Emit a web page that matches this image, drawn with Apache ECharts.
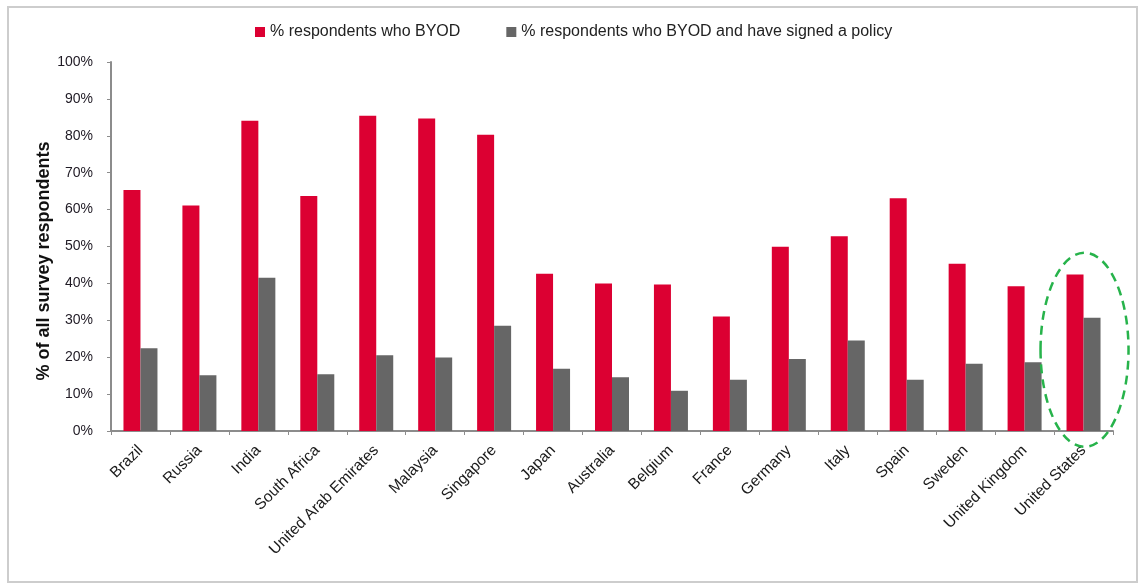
<!DOCTYPE html>
<html>
<head>
<meta charset="utf-8">
<script src="https://cdn.jsdelivr.net/npm/echarts@6/dist/echarts.min.js"></script>
<style>
  html, body { margin: 0; padding: 0; background: #ffffff; }
  #chart { width: 1138px; height: 583px; }
</style>
</head>
<body>
<div id="chart"></div>
<script>
// Countries surveyed
const countries = ['Brazil', 'Russia', 'India', 'South Africa', 'United Arab Emirates', 'Malaysia',
  'Singapore', 'Japan', 'Australia', 'Belgium', 'France', 'Germany', 'Italy', 'Spain', 'Sweden',
  'United Kingdom', 'United States'];

// % respondents who BYOD
const byod = [65.3, 61.1, 84.1, 63.7, 85.4, 84.7, 80.3, 42.6, 40.0, 39.7, 31.0, 49.9, 52.8, 63.1, 45.3, 39.2, 42.4];

// % respondents who BYOD and have signed a policy
const byodPolicy = [22.4, 15.1, 41.5, 15.4, 20.5, 19.9, 28.5, 16.9, 14.6, 10.9, 13.9, 19.5, 24.5, 13.9, 18.2, 18.6, 30.7];

const seriesNames = ['% respondents who BYOD', '% respondents who BYOD and have signed a policy'];
const yTitle = '% of all survey respondents';
const highlighted = 'United States';
const highlightCenterValue = 22;

const FONT = '"Liberation Sans", Arial, Helvetica, sans-serif';
const axisGray = '#8c8c8c';

const chart = echarts.init(document.getElementById('chart'), null, { renderer: 'canvas' });

chart.setOption({
  animation: false,
  backgroundColor: '#ffffff',
  textStyle: { fontFamily: FONT },
  legend: {
    left: 250,
    top: 19,
    itemWidth: 10,
    itemHeight: 10,
    itemGap: 46,
    icon: 'rect',
    textStyle: { fontSize: 16, color: '#222222', fontFamily: FONT },
    data: seriesNames
  },
  grid: { left: 111, right: 25, top: 62, bottom: 152, containLabel: false },
  xAxis: {
    type: 'category',
    data: countries,
    boundaryGap: true,
    axisLine: { lineStyle: { color: axisGray, width: 2 } },
    axisTick: { show: true, length: 4, inside: false, lineStyle: { color: axisGray, width: 1 } },
    axisLabel: {
      interval: 0,
      rotate: 45,
      margin: 17,
      fontSize: 15.5,
      color: '#1a1a1a',
      fontFamily: FONT
    }
  },
  yAxis: {
    type: 'value',
    min: 0,
    max: 100,
    interval: 10,
    axisLine: { show: true, lineStyle: { color: axisGray, width: 2 } },
    axisTick: { show: true, length: 4, lineStyle: { color: axisGray, width: 1 } },
    splitLine: { show: false },
    axisLabel: {
      formatter: '{value}%',
      margin: 18,
      fontSize: 14,
      color: '#1f1a24',
      fontFamily: FONT
    }
  },
  series: [
    {
      name: seriesNames[0],
      type: 'bar',
      data: byod,
      barWidth: 17,
      barGap: '0%',
      itemStyle: { color: '#dc0032' }
    },
    {
      name: seriesNames[1],
      type: 'bar',
      data: byodPolicy,
      barWidth: 17,
      barGap: '0%',
      itemStyle: { color: '#666666' }
    }
  ]
});

// Outer frame, y-axis title and the dashed ring around the highlighted country
const cx = chart.convertToPixel({ xAxisIndex: 0 }, highlighted);
const cy = chart.convertToPixel({ yAxisIndex: 0 }, highlightCenterValue);

chart.setOption({
  graphic: [
    {
      type: 'rect',
      silent: true,
      shape: { x: 8, y: 7, width: 1129, height: 575 },
      style: { fill: 'none', stroke: '#cdcdcd', lineWidth: 2 }
    },
    {
      type: 'text',
      silent: true,
      x: 44,
      y: 261,
      rotation: Math.PI / 2,
      style: {
        text: yTitle,
        font: 'bold 18px ' + FONT,
        fill: '#111111',
        textAlign: 'center',
        textVerticalAlign: 'middle'
      }
    },
    {
      type: 'ellipse',
      silent: true,
      shape: { cx: cx + 1, cy: cy, rx: 44, ry: 97 },
      style: { fill: 'none', stroke: '#27b34b', lineWidth: 2.5, lineDash: [9, 6] },
      z: 100
    }
  ]
});
</script>
</body>
</html>
